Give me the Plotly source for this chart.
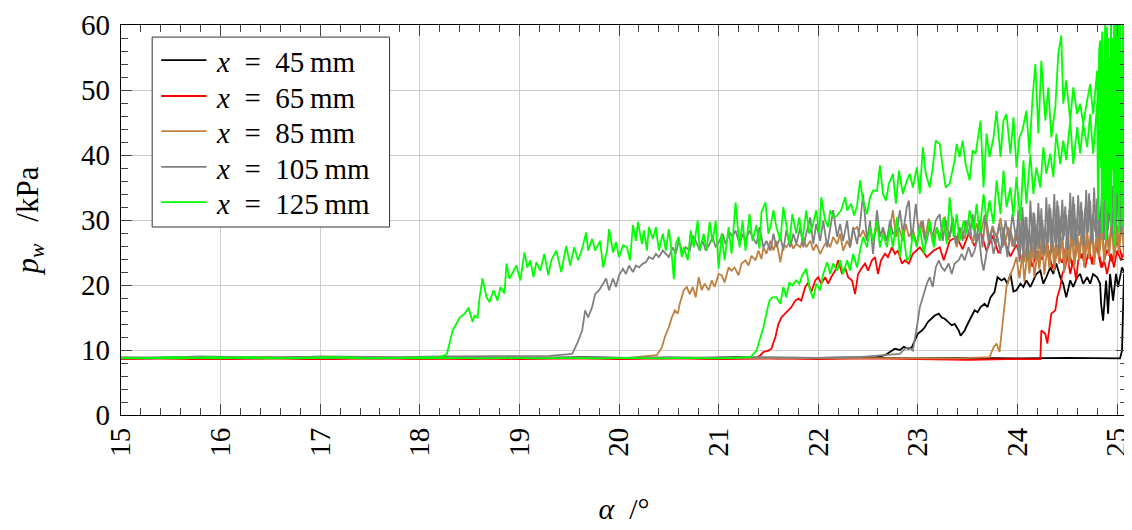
import plotly.graph_objects as go

# ---------------- data (alpha in degrees, p_w in kPa) ----------------
# Each probe position has two runs (an earlier and a later onset).

black_run1 = [(15.0, 8.8), (15.3, 8.7), (15.6, 8.9), (16.0, 8.8), (16.4, 8.7), (16.8, 8.9), (17.2, 8.8),
              (17.6, 8.7), (18.0, 8.8), (18.4, 8.9), (18.8, 8.8), (19.2, 8.7), (19.6, 8.9), (20.0, 8.8),
              (20.4, 8.7), (20.8, 8.8), (21.2, 8.9), (21.6, 8.7), (22.0, 8.8), (22.4, 8.8), (22.59, 8.9),
              (22.67, 9.2), (22.72, 9.7), (22.77, 10.2), (22.82, 10.0), (22.86, 10.5), (22.90, 10.2),
              (22.94, 10.4), (22.97, 11.5), (23.00, 12.5), (23.04, 13.0), (23.07, 13.5), (23.10, 14.3),
              (23.14, 14.8), (23.17, 15.3), (23.21, 15.6), (23.24, 15.0), (23.27, 14.8), (23.31, 14.3),
              (23.34, 13.8), (23.37, 14.0), (23.41, 13.0), (23.43, 12.2), (23.47, 13.0), (23.50, 14.0),
              (23.53, 15.0), (23.57, 16.1), (23.60, 15.8), (23.63, 16.6), (23.67, 17.1), (23.70, 16.6),
              (23.73, 18.1), (23.77, 18.9), (23.80, 21.2), (23.84, 20.7), (23.87, 21.0), (23.90, 20.2),
              (23.93, 21.7), (23.96, 19.0), (23.99, 19.2), (24.03, 20.2), (24.06, 19.7), (24.09, 20.7),
              (24.13, 19.7), (24.16, 20.7), (24.19, 21.7), (24.23, 22.2), (24.26, 20.2), (24.29, 21.2),
              (24.33, 22.7), (24.36, 21.7), (24.39, 23.3), (24.43, 21.2), (24.46, 20.2), (24.49, 18.1),
              (24.53, 20.7), (24.56, 19.7), (24.60, 21.2), (24.63, 21.7), (24.66, 20.2), (24.70, 21.2),
              (24.73, 20.2), (24.76, 21.7), (24.80, 21.2), (24.83, 20.2), (24.84, 17.1), (24.86, 14.5),
              (24.89, 20.7), (24.91, 15.6), (24.93, 21.7), (24.96, 17.6), (24.99, 21.7), (25.01, 19.7),
              (25.05, 22.7), (25.08, 21.7), (25.10, 20.0)]
black_run2 = [(15.0, 8.7), (15.5, 8.8), (16.0, 8.7), (16.5, 8.8), (17.0, 8.7), (17.5, 8.8), (18.0, 8.7),
              (18.5, 8.8), (19.0, 8.7), (19.5, 8.8), (20.0, 8.7), (20.5, 8.8), (21.0, 8.7), (21.5, 8.8),
              (22.0, 8.7), (22.5, 8.8), (23.0, 8.7), (23.5, 8.8), (24.0, 8.7), (24.5, 8.8), (25.03, 8.7),
              (25.05, 9.9), (25.06, 16.0), (25.07, 21.7), (25.08, 18.7), (25.09, 22.0), (25.10, 20.5)]

red_run1 = [(15.0, 8.7), (15.35, 8.8), (15.7, 8.6), (16.1, 8.7), (16.5, 8.8), (16.9, 8.6), (17.3, 8.7),
            (17.7, 8.8), (18.1, 8.7), (18.5, 8.6), (18.9, 8.8), (19.3, 8.7), (19.7, 8.8), (20.1, 8.7),
            (20.5, 8.8), (20.9, 8.7), (21.2, 8.8), (21.38, 8.8), (21.42, 9.2), (21.45, 9.7), (21.50, 9.9),
            (21.53, 10.2), (21.57, 12.0), (21.60, 14.0), (21.63, 15.0), (21.67, 15.6), (21.70, 16.1),
            (21.73, 16.6), (21.77, 17.6), (21.80, 17.9), (21.83, 17.6), (21.87, 19.7), (21.90, 20.4),
            (21.93, 18.9), (21.97, 20.7), (22.00, 21.2), (22.03, 20.2), (22.07, 21.2), (22.10, 20.2),
            (22.13, 21.2), (22.17, 22.2), (22.20, 23.8), (22.24, 21.7), (22.27, 22.7), (22.30, 21.2),
            (22.34, 20.7), (22.37, 18.6), (22.40, 21.7), (22.44, 22.7), (22.47, 23.3), (22.50, 22.2),
            (22.54, 23.8), (22.57, 24.3), (22.60, 21.7), (22.63, 23.8), (22.67, 24.8), (22.70, 24.3),
            (22.74, 25.8), (22.77, 24.8), (22.80, 25.3), (22.84, 23.3), (22.87, 23.8), (22.91, 23.3),
            (22.95, 24.8), (23.02, 25.8), (23.09, 24.3), (23.16, 25.3), (23.22, 25.8), (23.26, 23.8),
            (23.32, 26.8), (23.39, 27.4), (23.45, 25.5), (23.51, 27.9), (23.57, 26.0), (23.63, 28.3),
            (23.69, 25.2), (23.75, 27.6), (23.81, 24.9), (23.87, 26.8), (23.93, 24.4), (23.99, 26.2),
            (24.05, 23.5), (24.10, 25.9), (24.15, 22.8), (24.20, 25.2), (24.25, 23.9), (24.30, 26.3),
            (24.35, 22.5), (24.40, 25.0), (24.45, 23.4), (24.50, 26.7), (24.55, 22.9), (24.60, 25.6),
            (24.65, 24.1), (24.70, 27.0), (24.75, 23.2), (24.80, 26.1), (24.85, 22.7), (24.90, 25.4),
            (24.95, 23.6), (25.00, 26.9), (25.05, 24.3), (25.10, 26.0)]
red_run2 = [(15.0, 8.6), (15.5, 8.7), (16.0, 8.6), (16.5, 8.7), (17.0, 8.6), (17.5, 8.7), (18.0, 8.6),
            (18.5, 8.7), (19.0, 8.6), (19.5, 8.7), (20.0, 8.6), (20.5, 8.7), (21.0, 8.6), (21.5, 8.7),
            (22.0, 8.6), (22.5, 8.7), (23.0, 8.6), (23.5, 8.5), (23.9, 8.6), (24.23, 8.6), (24.24, 13.0),
            (24.28, 12.5), (24.30, 11.0), (24.32, 13.0), (24.34, 15.6), (24.38, 16.1), (24.40, 18.1),
            (24.43, 19.7), (24.45, 21.7), (24.48, 22.7), (24.50, 24.8), (24.53, 21.7), (24.56, 23.8),
            (24.59, 20.7), (24.61, 23.8), (24.65, 24.8), (24.68, 22.7), (24.71, 24.8), (24.75, 23.8),
            (24.78, 25.3), (24.80, 25.8), (24.84, 22.7), (24.87, 23.8), (24.90, 21.7), (24.94, 24.8),
            (24.97, 22.7), (25.00, 25.3), (25.04, 23.8), (25.07, 24.8), (25.10, 23.5)]

brown_run1 = [(15.0, 8.8), (15.4, 8.7), (15.8, 8.9), (16.2, 8.8), (16.6, 8.7), (17.0, 8.8), (17.4, 8.9),
              (17.8, 8.8), (18.2, 8.7), (18.6, 8.8), (19.0, 8.9), (19.4, 8.8), (19.8, 8.7), (20.1, 8.8),
              (20.38, 9.2), (20.43, 10.4), (20.46, 12.0), (20.50, 13.5), (20.53, 15.0), (20.56, 16.1),
              (20.59, 15.6), (20.61, 17.1), (20.65, 19.2), (20.68, 19.7), (20.71, 18.6), (20.74, 19.7),
              (20.77, 18.1), (20.80, 21.2), (20.83, 19.2), (20.86, 20.2), (20.90, 19.2), (20.93, 20.7),
              (20.96, 19.7), (21.00, 21.7), (21.03, 21.5), (21.06, 20.4), (21.10, 22.7), (21.13, 22.2),
              (21.16, 22.7), (21.20, 21.5), (21.23, 23.3), (21.27, 23.8), (21.30, 23.0), (21.33, 24.5),
              (21.37, 23.8), (21.40, 25.3), (21.43, 24.0), (21.45, 25.8), (21.48, 24.8), (21.52, 26.8),
              (21.55, 25.3), (21.58, 26.8), (21.62, 23.5), (21.65, 26.3), (21.68, 25.8), (21.72, 26.8),
              (21.75, 25.6), (21.78, 26.3), (21.82, 25.8), (21.85, 27.4), (21.88, 25.8), (21.92, 26.8),
              (21.95, 25.3), (21.98, 26.3), (22.02, 24.8), (22.05, 25.8), (22.09, 26.8), (22.12, 25.8),
              (22.15, 27.4), (22.19, 26.3), (22.22, 27.9), (22.25, 25.3), (22.29, 26.8), (22.32, 25.8),
              (22.35, 28.4), (22.39, 28.9), (22.42, 27.4), (22.45, 28.4), (22.49, 26.8), (22.52, 28.9),
              (22.55, 26.8), (22.59, 28.9), (22.62, 27.9), (22.65, 28.4), (22.69, 26.8), (22.72, 28.9),
              (22.75, 31.5), (22.78, 27.4), (22.81, 28.9), (22.85, 26.8), (22.88, 29.4), (22.91, 27.4),
              (22.95, 28.5), (22.99, 26.2), (23.03, 29.8), (23.07, 27.0), (23.11, 30.2), (23.15, 26.5),
              (23.19, 28.8), (23.23, 27.3), (23.27, 30.5), (23.31, 26.9), (23.35, 29.2), (23.39, 25.8),
              (23.43, 28.7), (23.47, 27.1), (23.51, 30.0), (23.55, 26.4), (23.59, 29.5), (23.63, 27.7),
              (23.67, 30.8), (23.71, 26.6), (23.75, 29.1), (23.79, 27.3), (23.83, 30.3), (23.87, 26.1),
              (23.91, 28.9), (23.95, 25.9), (23.99, 28.4), (24.02, 24.6), (24.05, 28.0), (24.07, 23.5),
              (24.10, 27.2), (24.12, 22.9), (24.15, 28.5), (24.17, 24.1), (24.20, 27.7), (24.22, 23.2),
              (24.25, 28.9), (24.27, 24.5), (24.30, 27.0), (24.32, 22.6), (24.35, 28.2), (24.37, 23.8),
              (24.40, 29.3), (24.42, 24.9), (24.45, 27.5), (24.47, 23.0), (24.50, 28.7), (24.52, 24.2),
              (24.55, 29.6), (24.57, 23.6), (24.60, 27.9), (24.62, 25.1), (24.65, 29.0), (24.67, 23.9),
              (24.70, 28.3), (24.72, 25.4), (24.75, 30.1), (24.77, 24.0), (24.80, 28.8), (24.82, 25.7),
              (24.85, 29.8), (24.87, 24.4), (24.90, 28.1), (24.92, 26.0), (24.95, 30.5), (24.97, 24.8),
              (25.00, 29.2), (25.02, 26.3), (25.05, 31.0), (25.07, 25.5), (25.10, 29.5)]
brown_run2 = [(15.0, 8.8), (15.5, 8.7), (16.0, 8.8), (16.5, 8.9), (17.0, 8.8), (17.5, 8.7), (18.0, 8.8),
              (18.5, 8.8), (19.0, 8.7), (19.5, 8.8), (20.0, 8.8), (20.5, 8.7), (21.0, 8.8), (21.5, 8.8),
              (22.0, 8.7), (22.5, 8.8), (23.0, 8.8), (23.4, 8.7), (23.72, 8.9), (23.76, 10.4), (23.79, 11.0),
              (23.82, 9.7), (23.84, 12.5), (23.87, 16.6), (23.89, 19.7), (23.93, 21.7), (23.96, 22.7),
              (23.99, 24.3), (24.02, 21.0), (24.05, 24.8), (24.07, 20.5), (24.10, 25.3), (24.12, 21.8),
              (24.15, 26.0), (24.17, 21.2), (24.20, 25.0), (24.22, 22.4), (24.25, 26.5), (24.27, 21.6),
              (24.30, 25.7), (24.32, 22.9), (24.35, 27.0), (24.37, 22.1), (24.40, 26.2), (24.42, 23.3),
              (24.45, 27.4), (24.47, 21.9), (24.50, 25.9), (24.52, 23.0), (24.55, 27.8), (24.57, 22.5),
              (24.60, 26.6), (24.62, 23.7), (24.65, 28.1), (24.67, 22.8), (24.70, 26.9), (24.72, 24.0),
              (24.75, 28.5), (24.77, 23.1), (24.80, 27.3), (24.82, 24.3), (24.85, 28.8), (24.87, 23.5),
              (24.90, 27.6), (24.92, 24.6), (24.95, 29.2), (24.97, 23.9), (25.00, 28.0), (25.02, 25.0),
              (25.05, 29.6), (25.07, 24.4), (25.10, 28.3)]

gray_run1 = [(15.0, 8.9), (15.4, 8.8), (15.8, 9.0), (16.2, 8.9), (16.6, 8.8), (17.0, 9.0), (17.4, 8.9),
             (17.8, 8.9), (18.2, 9.0), (18.6, 9.0), (19.0, 9.1), (19.3, 9.1), (19.53, 9.4), (19.58, 11.0),
             (19.63, 13.0), (19.66, 16.1), (19.69, 15.0), (19.73, 16.6), (19.76, 18.6), (19.80, 19.2),
             (19.84, 20.2), (19.87, 21.0), (19.90, 19.2), (19.94, 21.0), (19.97, 19.7), (20.00, 21.5),
             (20.04, 22.5), (20.07, 21.7), (20.10, 23.0), (20.14, 22.0), (20.17, 23.0), (20.20, 22.7),
             (20.24, 23.3), (20.27, 23.5), (20.30, 24.3), (20.34, 24.0), (20.37, 24.8), (20.40, 24.3),
             (20.44, 25.3), (20.47, 24.8), (20.50, 24.3), (20.54, 25.8), (20.57, 24.8), (20.60, 26.8),
             (20.64, 24.8), (20.67, 25.8), (20.71, 25.3), (20.74, 27.6), (20.77, 26.8), (20.81, 25.3),
             (20.84, 26.8), (20.87, 25.3), (20.91, 26.3), (20.94, 27.4), (20.97, 25.8), (21.01, 26.8),
             (21.04, 27.9), (21.07, 26.3), (21.11, 28.1), (21.14, 27.4), (21.17, 28.4), (21.21, 26.3),
             (21.24, 27.9), (21.27, 26.8), (21.31, 28.4), (21.34, 27.4), (21.38, 26.3), (21.41, 28.9),
             (21.45, 25.8), (21.48, 26.8), (21.52, 25.3), (21.55, 27.9), (21.58, 25.8), (21.62, 27.4),
             (21.65, 25.3), (21.68, 28.4), (21.72, 25.8), (21.75, 27.9), (21.78, 26.3), (21.82, 28.9),
             (21.85, 25.8), (21.88, 27.9), (21.92, 30.4), (21.95, 26.3), (21.98, 29.4), (22.02, 26.8),
             (22.05, 29.9), (22.09, 25.8), (22.12, 28.9), (22.15, 31.5), (22.19, 27.4), (22.22, 29.4),
             (22.25, 26.8), (22.29, 29.9), (22.32, 25.8), (22.35, 28.9), (22.39, 26.3), (22.42, 29.4),
             (22.45, 34.0), (22.49, 26.8), (22.52, 29.9), (22.55, 24.8), (22.59, 31.5), (22.62, 27.4),
             (22.65, 28.9), (22.69, 26.8), (22.72, 29.9), (22.75, 27.9), (22.79, 28.4), (22.82, 31.5),
             (22.85, 27.9), (22.89, 32.0), (22.91, 33.0), (22.94, 26.8), (22.98, 32.5), (23.01, 27.9),
             (23.05, 29.9), (23.08, 26.3), (23.12, 28.9), (23.15, 27.4), (23.18, 29.9), (23.22, 30.9),
             (23.25, 26.8), (23.28, 29.9), (23.32, 27.4), (23.35, 30.4), (23.38, 26.3), (23.42, 28.9),
             (23.45, 26.8), (23.48, 29.9), (23.52, 27.4), (23.55, 30.9), (23.58, 26.8), (23.62, 29.9),
             (23.65, 25.8), (23.68, 30.9), (23.72, 26.8), (23.75, 28.9), (23.78, 26.3), (23.82, 29.4),
             (23.85, 25.8), (23.88, 29.9), (23.92, 26.8), (23.95, 30.9), (23.99, 26.8), (24.01, 31.5),
             (24.03, 25.3), (24.05, 32.0), (24.07, 26.1), (24.09, 30.4), (24.11, 24.8), (24.13, 33.0),
             (24.15, 26.8), (24.17, 31.0), (24.19, 25.5), (24.21, 32.6), (24.23, 27.0), (24.25, 30.0),
             (24.27, 25.0), (24.29, 33.5), (24.31, 26.5), (24.33, 31.8), (24.35, 27.2), (24.37, 34.0),
             (24.39, 25.8), (24.41, 32.2), (24.43, 26.9), (24.45, 33.1), (24.47, 27.5), (24.49, 30.8),
             (24.51, 25.6), (24.53, 34.2), (24.55, 27.0), (24.57, 32.5), (24.59, 26.2), (24.61, 33.8),
             (24.63, 27.8), (24.65, 31.4), (24.67, 26.0), (24.69, 34.6), (24.71, 28.1), (24.73, 32.9),
             (24.75, 26.7), (24.77, 35.0), (24.79, 27.4), (24.81, 33.2), (24.83, 28.0), (24.85, 35.5),
             (24.87, 26.9), (24.89, 34.1), (24.91, 28.5), (24.93, 36.2), (24.95, 27.6), (24.97, 33.7),
             (24.99, 29.0), (25.01, 36.8), (25.03, 28.2), (25.05, 35.2), (25.07, 29.5), (25.09, 37.0),
             (25.11, 30.0)]
gray_run2 = [(15.0, 8.8), (15.5, 8.9), (16.0, 8.8), (16.5, 8.9), (17.0, 8.8), (17.5, 8.9), (18.0, 8.8),
             (18.5, 8.9), (19.0, 8.8), (19.5, 8.9), (20.0, 8.8), (20.5, 8.9), (21.0, 8.8), (21.5, 8.9),
             (22.0, 8.8), (22.4, 8.9), (22.82, 9.4), (22.87, 10.2), (22.91, 10.4), (22.95, 9.9),
             (22.99, 13.5), (23.02, 16.6), (23.06, 18.6), (23.09, 20.2), (23.12, 21.2), (23.15, 19.7),
             (23.18, 22.7), (23.21, 23.8), (23.24, 22.7), (23.27, 22.2), (23.31, 23.3), (23.34, 21.7),
             (23.37, 23.3), (23.41, 23.8), (23.44, 24.8), (23.47, 23.8), (23.51, 25.8), (23.54, 24.3),
             (23.57, 25.3), (23.61, 27.9), (23.64, 23.8), (23.66, 22.2), (23.70, 25.8), (23.73, 27.9),
             (23.76, 24.8), (23.80, 27.4), (23.83, 24.8), (23.86, 28.9), (23.90, 24.3), (23.93, 28.4),
             (23.97, 25.8), (24.00, 28.9), (24.02, 23.5), (24.04, 29.8), (24.06, 24.2), (24.08, 30.5),
             (24.10, 23.9), (24.12, 28.6), (24.14, 25.1), (24.16, 31.2), (24.18, 24.0), (24.20, 29.4),
             (24.22, 25.6), (24.24, 31.8), (24.26, 24.7), (24.28, 29.0), (24.30, 26.2), (24.32, 32.4),
             (24.34, 25.0), (24.36, 30.1), (24.38, 26.5), (24.40, 33.0), (24.42, 24.8), (24.44, 30.7),
             (24.46, 26.9), (24.48, 32.1), (24.50, 25.4), (24.52, 31.5), (24.54, 27.3), (24.56, 33.6),
             (24.58, 25.9), (24.60, 30.3), (24.62, 27.6), (24.64, 32.8), (24.66, 26.1), (24.68, 31.9),
             (24.70, 27.9), (24.72, 34.1), (24.74, 26.4), (24.76, 30.9), (24.78, 28.2), (24.80, 33.3),
             (24.82, 26.8), (24.84, 32.0), (24.86, 28.6), (24.88, 34.7), (24.90, 27.2), (24.92, 31.6),
             (24.94, 29.0), (24.96, 35.3), (24.98, 27.7), (25.00, 33.9), (25.02, 29.3), (25.04, 36.0),
             (25.06, 28.4), (25.08, 34.5), (25.10, 31.0)]

green_run1 = [(15.0, 8.8), (15.25, 8.7), (15.5, 8.9), (15.75, 8.8), (16.0, 8.7), (16.25, 8.9), (16.5, 8.8),
              (16.75, 8.7), (17.0, 8.8), (17.25, 8.9), (17.5, 8.7), (17.75, 8.8), (18.0, 8.8), (18.2, 8.9),
              (18.27, 9.3), (18.33, 13.0), (18.40, 15.0), (18.45, 15.6), (18.49, 16.5), (18.53, 14.3),
              (18.55, 15.3), (18.58, 15.0), (18.60, 18.1), (18.63, 21.0), (18.67, 18.1), (18.70, 17.4),
              (18.74, 19.2), (18.78, 17.6), (18.81, 19.7), (18.85, 18.7), (18.87, 23.3), (18.90, 21.0),
              (18.93, 21.8), (18.97, 23.0), (19.01, 20.7), (19.05, 25.0), (19.08, 22.7), (19.11, 23.8),
              (19.14, 21.2), (19.17, 23.5), (19.21, 22.2), (19.25, 24.8), (19.29, 21.5), (19.32, 23.8),
              (19.37, 25.3), (19.42, 22.0), (19.47, 26.0), (19.51, 23.0), (19.55, 25.8), (19.59, 23.8),
              (19.63, 25.6), (19.67, 28.1), (19.69, 25.3), (19.73, 27.1), (19.76, 25.3), (19.81, 26.8),
              (19.84, 22.7), (19.88, 25.3), (19.90, 28.6), (19.94, 25.0), (19.97, 26.6), (20.00, 24.3),
              (20.04, 26.1), (20.08, 25.8), (20.11, 23.8), (20.14, 29.2), (20.17, 26.8), (20.19, 29.7),
              (20.23, 26.3), (20.25, 28.4), (20.28, 25.3), (20.30, 28.9), (20.34, 27.1), (20.37, 28.9),
              (20.40, 25.3), (20.44, 27.9), (20.47, 25.3), (20.50, 28.6), (20.52, 26.3), (20.55, 20.9),
              (20.57, 26.3), (20.60, 27.4), (20.63, 24.3), (20.65, 25.8), (20.69, 23.8), (20.72, 28.4),
              (20.75, 25.8), (20.79, 29.9), (20.81, 25.3), (20.85, 27.9), (20.88, 25.3), (20.91, 29.7),
              (20.94, 26.6), (20.97, 29.9), (21.00, 22.5), (21.03, 27.9), (21.06, 23.8), (21.10, 28.9),
              (21.13, 24.8), (21.17, 32.7), (21.21, 25.8), (21.24, 29.9), (21.27, 25.3), (21.31, 30.9),
              (21.34, 26.8), (21.38, 29.2), (21.41, 25.6), (21.43, 31.2), (21.47, 32.7), (21.50, 27.9),
              (21.52, 28.9), (21.55, 31.5), (21.58, 28.9), (21.62, 26.8), (21.65, 32.0), (21.68, 28.9),
              (21.71, 26.3), (21.74, 30.9), (21.78, 27.9), (21.81, 30.4), (21.84, 26.8), (21.88, 31.5),
              (21.91, 27.9), (21.94, 28.9), (21.98, 31.5), (22.01, 27.9), (22.03, 33.5), (22.07, 29.9),
              (22.10, 28.9), (22.12, 31.5), (22.16, 30.4), (22.19, 30.7), (22.23, 31.5), (22.27, 33.5),
              (22.29, 31.5), (22.33, 32.5), (22.36, 30.7), (22.39, 32.2), (22.42, 36.1), (22.45, 33.0),
              (22.49, 30.9), (22.52, 33.5), (22.55, 34.5), (22.59, 34.5), (22.62, 38.4), (22.65, 34.0),
              (22.68, 33.0), (22.71, 35.6), (22.75, 37.1), (22.78, 32.5), (22.81, 37.6), (22.85, 34.0),
              (22.89, 36.1), (22.92, 37.1), (22.95, 35.0), (22.99, 38.1), (23.02, 34.0), (23.05, 41.2),
              (23.08, 37.1), (23.12, 35.0), (23.15, 38.1), (23.18, 42.2), (23.22, 41.7), (23.25, 38.1),
              (23.28, 35.0), (23.32, 35.6), (23.35, 38.1), (23.37, 39.2), (23.39, 41.7), (23.42, 39.7),
              (23.45, 42.2), (23.48, 38.6), (23.52, 36.1), (23.55, 40.7), (23.58, 40.2), (23.61, 43.8),
              (23.63, 45.3), (23.66, 35.0), (23.69, 43.3), (23.72, 39.7), (23.76, 42.7), (23.79, 46.8),
              (23.83, 39.7), (23.86, 45.3), (23.89, 46.3), (23.93, 40.2), (23.96, 45.8), (23.99, 38.1),
              (24.02, 42.7), (24.05, 43.8), (24.09, 46.8), (24.12, 40.2), (24.15, 48.4), (24.18, 54.0),
              (24.21, 43.3), (24.24, 54.5), (24.28, 45.3), (24.31, 50.4), (24.34, 42.7), (24.38, 47.3),
              (24.41, 55.6), (24.44, 58.4), (24.46, 47.9), (24.49, 51.5), (24.53, 45.3), (24.56, 50.4),
              (24.60, 46.3), (24.63, 47.9), (24.66, 44.8), (24.70, 48.4), (24.73, 50.9), (24.76, 46.3),
              (24.80, 53.0), (24.81, 40.0), (24.82, 56.0), (24.83, 57.6), (24.84, 38.0), (24.85, 59.0),
              (24.86, 50.4), (24.87, 35.0), (24.88, 61.0), (24.89, 44.0), (24.90, 59.7), (24.91, 33.0),
              (24.92, 55.0), (24.93, 45.3), (24.94, 62.0), (24.95, 38.0), (24.96, 58.0), (24.97, 30.0),
              (24.98, 54.0), (24.99, 63.0), (25.00, 41.0), (25.01, 57.0), (25.02, 35.0), (25.03, 61.0),
              (25.04, 46.0), (25.05, 29.0), (25.06, 62.0), (25.07, 43.0), (25.08, 58.0), (25.09, 37.0),
              (25.10, 60.0)]
green_run2 = [(15.0, 8.7), (15.3, 8.8), (15.6, 8.7), (15.9, 8.9), (16.2, 8.8), (16.5, 8.7), (16.8, 8.8),
              (17.1, 8.9), (17.4, 8.7), (17.7, 8.8), (18.0, 8.7), (18.3, 8.8), (18.6, 8.7), (18.9, 8.8),
              (19.2, 8.7), (19.5, 8.8), (19.8, 8.7), (20.1, 8.8), (20.4, 8.7), (20.7, 8.8), (21.0, 8.7),
              (21.2, 8.8), (21.32, 8.9), (21.38, 9.9), (21.43, 12.5), (21.45, 13.5), (21.48, 15.6),
              (21.51, 17.6), (21.54, 18.1), (21.58, 18.1), (21.62, 17.1), (21.65, 19.7), (21.68, 18.1),
              (21.71, 20.4), (21.74, 19.9), (21.78, 20.7), (21.81, 20.2), (21.84, 21.5), (21.88, 22.5),
              (21.91, 19.7), (21.95, 17.9), (21.98, 20.2), (22.02, 19.2), (22.05, 21.7), (22.09, 23.5),
              (22.12, 21.7), (22.15, 23.3), (22.19, 22.2), (22.22, 23.8), (22.25, 21.7), (22.29, 23.8),
              (22.32, 22.2), (22.35, 24.8), (22.39, 22.7), (22.42, 25.3), (22.45, 27.4), (22.49, 25.8),
              (22.52, 28.9), (22.55, 26.8), (22.59, 29.9), (22.62, 25.8), (22.65, 27.9), (22.69, 25.8),
              (22.72, 28.9), (22.75, 25.8), (22.79, 30.4), (22.82, 24.3), (22.85, 28.4), (22.89, 23.8),
              (22.92, 24.3), (22.95, 27.9), (22.99, 25.8), (23.02, 28.9), (23.06, 24.8), (23.09, 27.4),
              (23.12, 29.9), (23.16, 25.8), (23.19, 28.9), (23.22, 26.8), (23.26, 30.4), (23.29, 26.3),
              (23.32, 33.5), (23.36, 27.4), (23.39, 30.9), (23.42, 26.8), (23.46, 29.9), (23.49, 27.9),
              (23.52, 31.5), (23.56, 28.4), (23.59, 32.5), (23.62, 27.9), (23.66, 34.0), (23.69, 29.9),
              (23.72, 33.0), (23.76, 29.4), (23.79, 36.1), (23.83, 30.9), (23.86, 37.6), (23.89, 32.0),
              (23.93, 35.0), (23.96, 30.5), (23.99, 36.6), (24.03, 29.9), (24.06, 39.2), (24.09, 32.5),
              (24.13, 40.2), (24.16, 34.0), (24.19, 38.1), (24.23, 35.0), (24.26, 41.2), (24.29, 37.1),
              (24.33, 40.2), (24.36, 36.6), (24.39, 43.3), (24.43, 38.6), (24.46, 42.2), (24.49, 39.2),
              (24.53, 45.3), (24.56, 38.6), (24.60, 44.3), (24.63, 40.2), (24.66, 44.8), (24.70, 41.2),
              (24.73, 46.3), (24.76, 40.2), (24.80, 47.9), (24.81, 30.0), (24.82, 44.0), (24.83, 39.2),
              (24.84, 52.0), (24.85, 28.0), (24.86, 49.4), (24.87, 33.0), (24.88, 55.0), (24.89, 27.0),
              (24.90, 38.1), (24.91, 58.0), (24.92, 31.0), (24.93, 50.4), (24.94, 29.0), (24.95, 47.0),
              (24.96, 37.6), (24.97, 60.0), (24.98, 26.0), (24.99, 53.0), (25.00, 34.0), (25.01, 62.0),
              (25.02, 28.0), (25.03, 39.2), (25.04, 56.0), (25.05, 31.0), (25.06, 57.6), (25.07, 27.0),
              (25.08, 48.0), (25.09, 40.2), (25.10, 35.0)]

series_positions = ["45", "65", "85", "105", "125"]
series_runs = [(black_run1, black_run2), (red_run1, red_run2), (brown_run1, brown_run2),
               (gray_run1, gray_run2), (green_run1, green_run2)]
series_colors = ["#000000", "#ff0000", "#bf8040", "#808080", "#00ff00"]

x_ticks = [15, 16, 17, 18, 19, 20, 21, 22, 23, 24, 25]
y_ticks = [0, 10, 20, 30, 40, 50, 60]

FONT = "Liberation Serif"
FS = 29

fig = go.Figure()
names = []
for pos, (r1, r2), color in zip(series_positions, series_runs, series_colors):
    xs = [p[0] for p in r1] + [None] + [p[0] for p in r2]
    ys = [p[1] for p in r1] + [None] + [p[1] for p in r2]
    name = "<i>x</i>\u2002=\u2002" + pos + "\u2009mm"
    names.append(name)
    fig.add_trace(go.Scatter(x=xs, y=ys, mode="lines", name=name, showlegend=False,
                             line=dict(color=color, width=1.8), connectgaps=False))

# ---- legend box drawn in plot-area (paper) fractions, pgfplots style ----
leg_x0, leg_x1, leg_y0, leg_y1 = 0.031, 0.267, 0.482, 0.969
line_x0, line_x1, text_x = 0.040, 0.085, 0.092
row_y = [0.910, 0.818, 0.728, 0.636, 0.546]

shapes = [dict(type="rect", xref="paper", yref="paper", x0=leg_x0, x1=leg_x1, y0=leg_y0, y1=leg_y1,
               line=dict(color="#333333", width=1), fillcolor="white", layer="above")]
annotations = []
for name, color, ry in zip(names, series_colors, row_y):
    shapes.append(dict(type="line", xref="paper", yref="paper", x0=line_x0, x1=line_x1, y0=ry, y1=ry,
                       line=dict(color=color, width=1.8), layer="above"))
    annotations.append(dict(xref="paper", yref="paper", x=text_x, y=ry - 0.004, xanchor="left",
                            yanchor="middle", text=name, showarrow=False,
                            font=dict(family=FONT, size=FS, color="black")))

axis_common = dict(
    automargin=False,
    showline=True, linecolor="black", linewidth=1.3, mirror="allticks",
    ticks="inside", ticklen=11, tickwidth=1, tickcolor="#444444",
    showgrid=True, gridcolor="#cccccc", gridwidth=1.2, zeroline=False,
    ticklabeloverflow="allow",
    tickfont=dict(family=FONT, size=FS, color="black"),
)

fig.update_xaxes(
    range=[15, 25.1], tickvals=x_ticks, ticktext=[str(v) for v in x_ticks], tickangle=-90,
    minor=dict(dtick=0.2, ticks="inside", ticklen=7, tickcolor="#444444", showgrid=False),
    title=dict(text="<i>α</i>\u2002/°", font=dict(family=FONT, size=30, color="black"), standoff=42),
    **axis_common,
)
fig.update_yaxes(
    range=[0, 60], tickvals=y_ticks, ticktext=[str(v) for v in y_ticks], ticklabelstandoff=4,
    minor=dict(dtick=2, ticks="inside", ticklen=7, tickcolor="#444444", showgrid=False),
    title=dict(text="<i>p</i><sub><i>w</i></sub>\u2002\u2009/kPa",
               font=dict(family=FONT, size=31, color="black"), standoff=33),
    **axis_common,
)

# The page body adds an 8 px margin; the figure is sized so that the plot area
# lands at x 121..1127, y 25..415 in the 1132x530 window.
fig.update_layout(
    width=1130, height=522,
    margin=dict(l=113, r=11, t=17, b=115),
    paper_bgcolor="white", plot_bgcolor="white",
    font=dict(family=FONT, size=FS, color="black"),
    showlegend=False,
    shapes=shapes,
    annotations=annotations,
)

fig.write_html("out.html")
